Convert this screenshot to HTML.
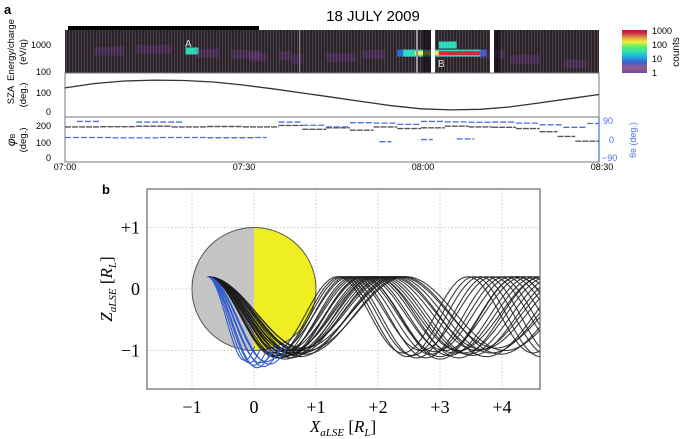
<!DOCTYPE html>
<html><head><meta charset="utf-8">
<style>
html,body{margin:0;padding:0;background:#fff;}
svg{display:block;font-family:"Liberation Sans",sans-serif;}
.serif{font-family:"Liberation Serif",serif;}
</style></head>
<body>
<svg id="fig" width="685" height="439" viewBox="0 0 685 439" xmlns="http://www.w3.org/2000/svg">
<defs>
<linearGradient id="cbar" x1="0" y1="1" x2="0" y2="0">
<stop offset="0" stop-color="#6a4aa0"/><stop offset="0.12" stop-color="#9a5a8a"/>
<stop offset="0.25" stop-color="#3a60d0"/><stop offset="0.38" stop-color="#20b0e0"/>
<stop offset="0.5" stop-color="#30e0b0"/><stop offset="0.62" stop-color="#60f060"/>
<stop offset="0.72" stop-color="#f0f040"/><stop offset="0.82" stop-color="#e0a040"/>
<stop offset="0.92" stop-color="#d03040"/><stop offset="1" stop-color="#c01040"/>
</linearGradient>
<pattern id="stripes" width="3" height="10" patternUnits="userSpaceOnUse">
<rect width="3" height="10" fill="#2a2228"/><rect width="1" height="10" fill="#4a4448"/>
</pattern>
<clipPath id="specclip"><rect x="65" y="30" width="534" height="43"/></clipPath>
<clipPath id="bclip"><rect x="147" y="189" width="393" height="200"/></clipPath>
</defs>

<text x="4" y="14" font-size="13" font-weight="bold">a</text>
<text x="373" y="21" font-size="15" text-anchor="middle">18 JULY 2009</text>
<rect x="68" y="26" width="191" height="4" fill="#000"/>

<g>
<rect x="65" y="30" width="534" height="43" fill="url(#stripes)"/>
<g id="specmarks" clip-path="url(#specclip)"></g>
<rect x="416" y="30" width="2" height="43" fill="#999"/>
<rect x="423" y="30" width="8" height="43" fill="#151015" opacity="0.7"/>
<rect x="431" y="30" width="4" height="43" fill="#fff"/>
<rect x="490" y="30" width="4" height="43" fill="#fff"/>
<rect x="494" y="30" width="6" height="43" fill="#151015" opacity="0.7"/>
<rect x="299" y="30" width="1" height="43" fill="#888"/>
<text x="185" y="47" font-size="10" fill="#ddd">A</text>
<text x="438" y="67" font-size="10" fill="#ddd">B</text>
</g>
<text transform="translate(14,50) rotate(-90)" font-size="9.5" text-anchor="middle">Energy/charge</text>
<text transform="translate(26,52) rotate(-90)" font-size="9.5" text-anchor="middle">(eV/q)</text>
<text x="51" y="48" font-size="9" text-anchor="end">1000</text>
<text x="51" y="75" font-size="9" text-anchor="end">100</text>

<rect x="622" y="30" width="25" height="43" fill="url(#cbar)"/>
<g font-size="9">
<text x="652" y="34">1000</text><text x="652" y="48">100</text><text x="652" y="62">10</text><text x="652" y="76">1</text>
</g>
<text transform="translate(679,52) rotate(-90)" font-size="10" text-anchor="middle">counts</text>

<rect x="65" y="73" width="534" height="44" fill="none" stroke="#777" stroke-width="1"/>
<path id="szaline" fill="none" stroke="#333" stroke-width="1.3"/>
<text transform="translate(14,95) rotate(-90)" font-size="9.5" text-anchor="middle">SZA</text>
<text transform="translate(26,95) rotate(-90)" font-size="9.5" text-anchor="middle">(deg.)</text>
<text x="51" y="96" font-size="9" text-anchor="end">100</text>
<text x="51" y="115" font-size="9" text-anchor="end">0</text>

<rect x="65" y="117" width="534" height="45" fill="none" stroke="#777" stroke-width="1"/>
<line x1="599" y1="117" x2="599" y2="162" stroke="#4a70e0" stroke-width="1.2"/>
<g id="phimarks"></g>
<text transform="translate(15,140) rotate(-90)" font-size="12" font-style="italic" text-anchor="middle">φ<tspan font-size="7" font-style="normal">B</tspan></text>
<text transform="translate(26,140) rotate(-90)" font-size="9.5" text-anchor="middle">(deg.)</text>
<g font-size="9" text-anchor="end">
<text x="51" y="129">200</text><text x="51" y="146">100</text><text x="51" y="161">0</text>
</g>
<g font-size="9" fill="#4a70e0">
<text x="603" y="124">90</text><text x="609" y="143">0</text><text x="602" y="161">−90</text>
</g>
<text transform="translate(636,140) rotate(-90)" font-size="9" fill="#4a70e0" text-anchor="middle">θ<tspan font-size="7">B</tspan> (deg.)</text>
<g font-size="9" text-anchor="middle">
<text x="65" y="170">07:00</text><text x="244" y="170">07:30</text><text x="423" y="170">08:00</text><text x="602" y="170">08:30</text>
</g>

<text x="102" y="194" font-size="13" font-weight="bold">b</text>
<g id="grid"></g>
<g id="moon"></g>
<g id="traj" clip-path="url(#bclip)"></g>
<rect x="147" y="189" width="393" height="200" fill="none" stroke="#666" stroke-width="1.2"/>
<g id="bticks" class="serif" font-size="18"></g>
<text class="serif" x="343" y="432" font-size="17" text-anchor="middle"><tspan font-style="italic">X<tspan font-size="11" dy="4">aLSE</tspan></tspan><tspan dy="-4"> [</tspan><tspan font-style="italic">R<tspan font-size="11" dy="4">L</tspan></tspan><tspan dy="-4">]</tspan></text>
<text class="serif" transform="translate(112,289) rotate(-90)" font-size="17" text-anchor="middle"><tspan font-style="italic">Z<tspan font-size="11" dy="4">aLSE</tspan></tspan><tspan dy="-4"> [</tspan><tspan font-style="italic">R<tspan font-size="11" dy="4">L</tspan></tspan><tspan dy="-4">]</tspan></text>
</svg>

<script>
const szaTimes = [0,5,10,15,20,25,30,35,40,45,50,55,60,65,70,75,80,85,90];
const szaValues = [127,150,163,168,166,158,142,122,100,78,55,33,17,11,14,27,48,70,92];
const specT0 = [5,12,20.3,28,36,44,50,56,57,59,63,63,70,75,84,38,22,31];
const specT1 = [10,18,22.5,33,38,49,54,71,70,68,70,66,74,80,88,40,26,34];
const specE  = [600,700,600,450,400,350,450,500,500,500,500,1000,450,300,200,300,500,350];
const specC  = [2,3,30,2,2,3,2,8,30,150,800,25,3,2,2,2,2,2];
const phiT0 = [0,6,12,18,24,30,36,40,44,48,52,56,60,64,68,72,76,80,83,86];
const phiT1 = [6,12,18,24,30,36,40,44,48,52,56,60,64,68,72,76,80,83,86,90];
const phiV  = [190,192,195,190,193,190,200,175,185,170,190,180,185,195,190,188,180,160,130,100];
const thT0 = [0,8,16,24,32,36,40,44,48,52,56,60,64,68,72,76,80,84,88,53,60,66,2,12];
const thT1 = [8,16,24,32,34,40,44,48,52,56,60,64,68,72,76,80,84,88,90,55,62,69,6,20];
const thV  = [12,10,12,11,12,85,70,62,82,80,74,88,86,84,85,80,72,60,78,-8,2,5,88,85];
const blackLambda = [2.1,2.2,2.3,2.35,2.4,2.5,2.55,2.6,2.7,2.75,2.8,2.9,3.0,3.05,3.1,3.2,2.25,2.45,2.65,2.85,2.95,3.15,2.15,2.5,2.7];
const blackAmp    = [0.62,0.64,0.6,0.66,0.63,0.65,0.6,0.64,0.66,0.62,0.63,0.6,0.65,0.62,0.58,0.6,0.66,0.61,0.62,0.64,0.59,0.63,0.65,0.67,0.6];
const blueLambda  = [1.2,1.35,1.5,1.6,1.7,1.8,1.9,2.0];
const blueAmp     = [0.68,0.7,0.72,0.74,0.7,0.73,0.69,0.71];
const xTicks = [-1,0,1,2,3,4];
const xTickLabels = ["−1","0","+1","+2","+3","+4"];
const yTicks = [1,0,-1];
const yTickLabels = ["+1","0","−1"];

const NS="http://www.w3.org/2000/svg";
function mk(tag,attrs,parent){const e=document.createElementNS(NS,tag);for(const k in attrs)e.setAttribute(k,attrs[k]);parent.appendChild(e);return e;}
const tx=m=>65+m*(599-65)/90;
const ey=e=>72-(Math.log10(e)-2)*27;
const sy=v=>112-v*0.19;
const py=v=>157-v*0.158;
const thy=v=>140-v*(19/90);
function cmap(c){const l=Math.log10(c);
 if(l<0.5)return"#7a3aa0"; if(l<1.1)return"#2a70e0"; if(l<1.6)return"#30e0c0"; if(l<2.0)return"#80f060"; if(l<2.5)return"#f0f040"; return"#d02040";}

const sg=document.getElementById('specmarks');
for(let i=0;i<specT0.length;i++){
 const x0=tx(specT0[i]),x1=tx(specT1[i]);const yc=ey(specE[i]);const h=specC[i]>50?4:(specC[i]>5?7:9);
 const r=mk('rect',{x:x0,y:yc-h/2,width:x1-x0,height:h,fill:cmap(specC[i]),opacity:specC[i]>5?0.95:0.3},sg);
 
 
}
let d='';szaTimes.forEach((t,i)=>{d+=(i?'L':'M')+tx(t).toFixed(1)+' '+sy(szaValues[i]).toFixed(1);});
document.getElementById('szaline').setAttribute('d',d);
const pg=document.getElementById('phimarks');
for(let i=0;i<phiT0.length;i++){
 const l=mk('line',{x1:tx(phiT0[i]),x2:tx(phiT1[i]),y1:py(phiV[i]),y2:py(phiV[i]),stroke:'#555','stroke-width':1.4,'stroke-dasharray':'6 1'},pg);
 
 
}
for(let i=0;i<thT0.length;i++){
 const l=mk('line',{x1:tx(thT0[i]),x2:tx(thT1[i]),y1:thy(thV[i]),y2:thy(thV[i]),stroke:'#4a70e0','stroke-width':1.3,'stroke-dasharray':'6 2'},pg);
 
 
}
const bx=x=>254+x*62;
const bz=z=>289-z*61.5;
const gg=document.getElementById('grid');
xTicks.forEach(v=>mk('line',{x1:bx(v),x2:bx(v),y1:189,y2:389,stroke:'#bbb','stroke-dasharray':'1.5 2','stroke-width':0.8},gg));
yTicks.forEach(v=>mk('line',{x1:147,x2:540,y1:bz(v),y2:bz(v),stroke:'#bbb','stroke-dasharray':'1.5 2','stroke-width':0.8},gg));
const tg=document.getElementById('bticks');
xTicks.forEach((v,i)=>{const t=mk('text',{x:bx(v),y:413,'text-anchor':'middle'},tg);t.textContent=xTickLabels[i];
 
 });
yTicks.forEach((v,i)=>{const t=mk('text',{x:140,y:bz(v)+6,'text-anchor':'end'},tg);t.textContent=yTickLabels[i];
 
 });
const mg=document.getElementById('moon');
const R=62;
mk('path',{d:`M${bx(0)} ${bz(1)} A ${R} ${61.5} 0 0 0 ${bx(0)} ${bz(-1)} Z`,fill:'#c4c4c4'},mg);
mk('path',{d:`M${bx(0)} ${bz(1)} A ${R} ${61.5} 0 0 1 ${bx(0)} ${bz(-1)} Z`,fill:'#eeee22'},mg);
mk('ellipse',{cx:bx(0),cy:bz(0),rx:R,ry:61.5,fill:'none',stroke:'#555','stroke-width':1},mg);
const trg=document.getElementById('traj');
const X0=-0.75,Z0=0.2;
function orbit(lam,A,xEnd){let s='';const c=Z0-A;
 for(let x=X0;x<=xEnd;x+=0.02){const z=c+A*Math.cos(2*Math.PI*(x-X0)/lam);s+=(s?'L':'M')+bx(x).toFixed(1)+' '+bz(z).toFixed(1);}return s;}
for(let i=0;i<blackLambda.length;i++){
 const p=mk('path',{d:orbit(blackLambda[i],blackAmp[i],4.8),fill:'none',stroke:'#1a1a1a','stroke-width':1.1,opacity:0.85},trg);
 
 
}
for(let i=0;i<blueLambda.length;i++){
 const p=mk('path',{d:orbit(blueLambda[i],blueAmp[i],X0+blueLambda[i]*0.65),fill:'none',stroke:'#2f5bd0','stroke-width':1.1},trg);
 
 
}
</script>
</body></html>
